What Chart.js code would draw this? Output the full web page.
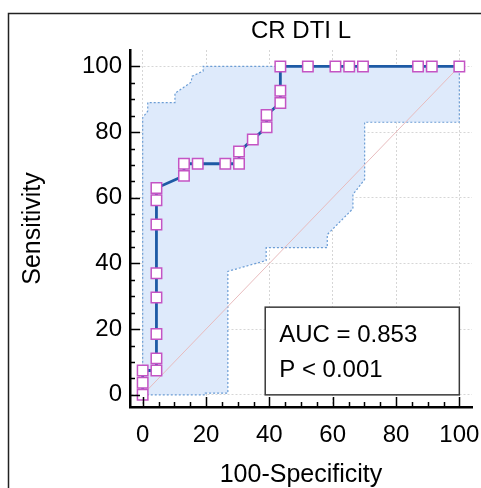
<!DOCTYPE html>
<html>
<head>
<meta charset="utf-8">
<style>
  html, body { margin: 0; padding: 0; background: #fff; }
  #wrap { width: 481px; height: 488px; }
</style>
<script src="https://cdn.jsdelivr.net/npm/chart.js@4.4.1/dist/chart.umd.min.js"></script>
</head>
<body>
<div id="wrap"><canvas id="roc" width="481" height="488"></canvas></div>
<script>
// ROC curve data (100-Specificity vs Sensitivity)
const rocX = [0, 0, 0, 4.35, 4.35, 4.35, 4.35, 4.35, 4.35, 4.35, 4.35, 13.04, 13.04, 17.39, 26.09, 30.43, 30.43, 34.78, 39.13, 39.13, 43.48, 43.48, 43.48, 52.17, 60.87, 65.22, 69.57, 86.96, 91.30, 100]
const rocY = [0, 3.70, 7.41, 7.41, 11.11, 18.52, 29.63, 37.04, 51.85, 59.26, 62.96, 66.67, 70.37, 70.37, 70.37, 70.37, 74.07, 77.78, 81.48, 85.19, 88.89, 92.59, 100, 100, 100, 100, 100, 100, 100, 100]

// confidence band, upper and lower edges
const upperX = [0, 0, 1.6, 1.6, 10.2, 10.2, 15.3, 15.6, 19.1, 19.1, 100]
const upperY = [0, 84.4, 86.4, 89.0, 89.0, 91.8, 95.2, 97.0, 98.6, 100, 100]
const lowerX = [0, 19.8, 19.8, 26.9, 26.9, 39.0, 39.0, 58.3, 58.3, 66.4, 66.4, 70.1, 70.1, 100, 100]
const lowerY = [0, 0, 0.5, 0.5, 37.6, 40.9, 44.8, 44.8, 48.8, 56.7, 61.0, 65.6, 83.0, 83.0, 100]

const tickValues = [0, 20, 40, 60, 80, 100]
const minorStep = 5
const chartTitle = 'CR DTI L'
const xTitle = '100-Specificity'
const yTitle = 'Sensitivity'
const annotationLines = ['AUC = 0.853', 'P < 0.001']
const annotationBox = { x0: 38.7, x1: 100, y0: 0, y1: 26.7 }

const FONT = "'Liberation Sans', Arial, sans-serif"

const toPoints = (xs, ys) => xs.map((x, i) => ({ x: x, y: ys[i] }))

// closed polygon: upper edge left to right, lower edge back
const bandPoints = toPoints(upperX, upperY).concat(toPoints(lowerX, lowerY).reverse())

// inward tick marks every 5 units
const innerTicks = {
  id: 'innerTicks',
  afterDraw (chart) {
    const { ctx, chartArea, scales } = chart
    ctx.save()
    ctx.strokeStyle = '#000'
    ctx.lineWidth = 1.5
    ctx.beginPath()
    for (let v = 0; v <= 100; v += minorStep) {
      const len = v % 20 === 0 ? 10 : 5
      const px = Math.round(scales.x.getPixelForValue(v)) + 0.5
      ctx.moveTo(px, chartArea.bottom)
      ctx.lineTo(px, chartArea.bottom - len)
      const py = Math.round(scales.y.getPixelForValue(v)) + 0.5
      ctx.moveTo(chartArea.left, py)
      ctx.lineTo(chartArea.left + len, py)
    }
    ctx.stroke()
    ctx.restore()
  }
}

// AUC box and outer frame
const aucBox = {
  id: 'aucBox',
  afterDatasetsDraw (chart) {
    const { ctx, scales } = chart
    const x0 = scales.x.getPixelForValue(annotationBox.x0)
    const x1 = scales.x.getPixelForValue(annotationBox.x1)
    const y0 = scales.y.getPixelForValue(annotationBox.y1)
    const y1 = scales.y.getPixelForValue(annotationBox.y0)
    ctx.save()
    ctx.fillStyle = '#fff'
    ctx.fillRect(x0, y0, x1 - x0, y1 - y0)
    ctx.strokeStyle = '#3a3a3a'
    ctx.lineWidth = 1.5
    ctx.strokeRect(x0, y0, x1 - x0, y1 - y0)
    ctx.fillStyle = '#000'
    ctx.font = '24px ' + FONT
    ctx.textBaseline = 'alphabetic'
    ctx.textAlign = 'left'
    annotationLines.forEach((t, i) => ctx.fillText(t, x0 + 14, y0 + 34.5 + i * 35))
    ctx.restore()
  },
  beforeDraw (chart) {
    const { ctx } = chart
    ctx.save()
    ctx.strokeStyle = '#222'
    ctx.lineWidth = 1.5
    ctx.beginPath()
    ctx.moveTo(8.5, chart.height + 5)
    ctx.lineTo(8.5, 13.5)
    ctx.lineTo(chart.width + 5, 13.5)
    ctx.stroke()
    ctx.restore()
  }
}

const axisCommon = {
  type: 'linear',
  afterBuildTicks: (scale) => { scale.ticks = tickValues.map(v => ({ value: v })) },
  grid: { color: '#d6d6d6', lineWidth: 1, drawTicks: false },
  border: { display: true, color: '#000', width: 2.5, dash: [2, 2] },
  ticks: { color: '#000', font: { family: FONT, size: 24 } }
}

new Chart(document.getElementById('roc'), {
  type: 'scatter',
  data: {
    datasets: [{
      label: 'ROC',
      data: toPoints(rocX, rocY),
      showLine: true,
      borderColor: '#1d5aa5',
      borderWidth: 2.8,
      pointStyle: 'rect',
      pointRadius: 7.4,
      pointBackgroundColor: '#fff',
      pointBorderColor: '#c454c4',
      pointBorderWidth: 1.5,
      tension: 0,
      order: 0
    }, {
      label: 'Reference',
      data: [{ x: 0, y: 0 }, { x: 100, y: 100 }],
      showLine: true,
      borderColor: '#e8bcbe',
      borderWidth: 1,
      pointRadius: 0,
      order: 1
    }, {
      label: 'CI band',
      data: bandPoints,
      showLine: true,
      fill: 'shape',
      backgroundColor: '#deeafb',
      borderColor: '#6b9dd5',
      borderWidth: 1.2,
      borderDash: [2, 2],
      pointRadius: 0,
      tension: 0,
      order: 2
    }]
  },
  options: {
    responsive: false,
    animation: false,
    layout: { padding: { left: 0, right: 9, top: 0, bottom: 0 } },
    plugins: {
      legend: { display: false },
      tooltip: { enabled: false },
      title: {
        display: true,
        text: chartTitle,
        fullSize: false,
        color: '#000',
        font: { family: FONT, size: 24, weight: 'normal', lineHeight: 1.2 },
        padding: { top: 16.6, bottom: 4.6 }
      }
    },
    scales: {
      x: Object.assign({}, axisCommon, {
        min: -4,
        max: 104,
        afterFit: (scale) => {
          scale.height = 81
          scale.paddingLeft = 0
          scale.paddingRight = 0
        },
        ticks: Object.assign({}, axisCommon.ticks, { padding: 14 }),
        title: {
          display: true,
          text: xTitle,
          color: '#000',
          font: { family: FONT, size: 25, lineHeight: 1 },
          padding: { top: 0, bottom: 0 }
        }
      }),
      y: Object.assign({}, axisCommon, {
        min: -3.7,
        max: 105,
        afterFit: (scale) => {
          scale.width = 130
          scale.paddingTop = 0
          scale.paddingBottom = 0
        },
        ticks: Object.assign({}, axisCommon.ticks, { padding: 8 }),
        title: {
          display: true,
          text: yTitle,
          color: '#000',
          font: { family: FONT, size: 25, lineHeight: 1 },
          padding: { top: 21, bottom: 0 }
        }
      })
    }
  },
  plugins: [innerTicks, aucBox]
})
</script>
</body>
</html>
